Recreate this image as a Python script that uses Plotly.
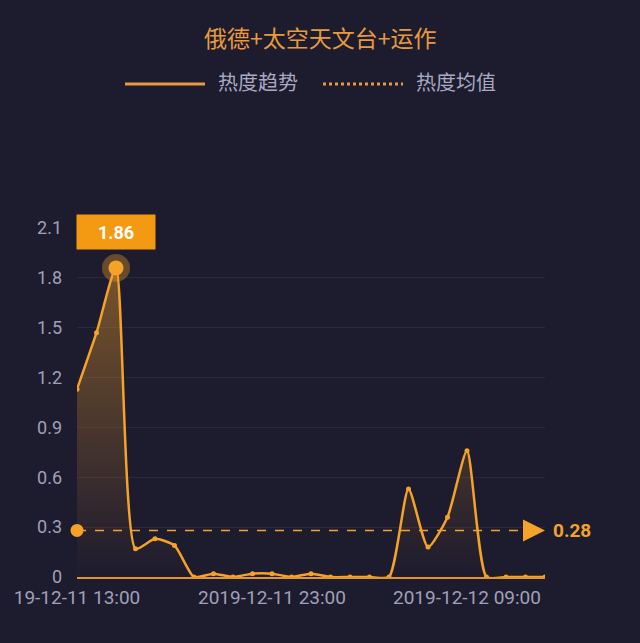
import plotly.graph_objects as go

# hourly points, 2019-12-11 13:00 .. 2019-12-12 13:00
hours = [
    "2019-12-11 13:00", "2019-12-11 14:00", "2019-12-11 15:00", "2019-12-11 16:00",
    "2019-12-11 17:00", "2019-12-11 18:00", "2019-12-11 19:00", "2019-12-11 20:00",
    "2019-12-11 21:00", "2019-12-11 22:00", "2019-12-11 23:00", "2019-12-12 00:00",
    "2019-12-12 01:00", "2019-12-12 02:00", "2019-12-12 03:00", "2019-12-12 04:00",
    "2019-12-12 05:00", "2019-12-12 06:00", "2019-12-12 07:00", "2019-12-12 08:00",
    "2019-12-12 09:00", "2019-12-12 10:00", "2019-12-12 11:00", "2019-12-12 12:00",
    "2019-12-12 13:00",
]
heat = [1.13, 1.47, 1.86, 0.17, 0.23, 0.19, 0.0, 0.02, 0.0, 0.02, 0.02, 0.0, 0.02,
        0.0, 0.0, 0.0, 0.0, 0.53, 0.18, 0.36, 0.76, 0.0, 0.0, 0.0, 0.0]
heat_mean = 0.28
tick_idx = [0, 10, 20]
tick_text = ["19-12-11 13:00", "2019-12-11 23:00", "2019-12-12 09:00"]
y_ticks = [0, 0.3, 0.6, 0.9, 1.2, 1.5, 1.8, 2.1]
y_ticktext = ["0", "0.3", "0.6", "0.9", "1.2", "1.5", "1.8", "2.1"]

title_text = "俄德+太空天文台+运作"
legend_names = ["热度趋势", "热度均值"]

BG = "#1d1b2e"
ORANGE = "#f5a229"
TICK = "#a0a0b8"
FONT = "Roboto, Noto Sans CJK SC, sans-serif"
CJK = "Noto Sans CJK SC"

# plot box in pixels (for paper coords of the hand-made legend)
L, R, T, B = 77, 545, 228, 577


def px(x):
    return (x - L) / (R - L)


def py(y):
    return (B - y) / (B - T)


fig = go.Figure()

# area + trend line
fig.add_trace(go.Scatter(
    x=hours, y=heat,
    mode="lines+markers",
    line=dict(color=ORANGE, width=2.5, shape="spline", smoothing=0.6),
    marker=dict(size=5, color=ORANGE),
    fill="tozeroy",
    fillgradient=dict(type="vertical",
                      colorscale=[[0, "rgba(245,162,41,0.0)"], [1, "rgba(245,162,41,0.42)"]]),
    name=legend_names[0], showlegend=False, hoverinfo="x+y",
))

# peak highlight
imax = heat.index(max(heat))
fig.add_trace(go.Scatter(
    x=[hours[imax]], y=[heat[imax]], mode="markers",
    marker=dict(size=28, color="rgba(245,162,41,0.35)"),
    showlegend=False, hoverinfo="skip",
))
fig.add_trace(go.Scatter(
    x=[hours[imax]], y=[heat[imax]], mode="markers",
    marker=dict(size=15, color=ORANGE),
    showlegend=False, hoverinfo="skip",
))

# mean line
fig.add_trace(go.Scatter(
    x=[hours[0], hours[-2]], y=[heat_mean, heat_mean], mode="lines",
    line=dict(color=ORANGE, width=1.5, dash="dash"),
    name=legend_names[1], showlegend=False, hoverinfo="skip",
))
fig.add_trace(go.Scatter(
    x=[hours[0]], y=[heat_mean], mode="markers",
    marker=dict(size=13, color=ORANGE),
    showlegend=False, hoverinfo="skip", cliponaxis=False,
))
fig.add_trace(go.Scatter(
    x=[hours[-1]], y=[heat_mean], mode="markers",
    marker=dict(size=22, color=ORANGE, symbol="arrow-right"),
    showlegend=False, hoverinfo="skip", cliponaxis=False,
))

annotations = [
    dict(x=hours[imax], y=heat[imax], xref="x", yref="y", text="<b>1.86</b>",
         showarrow=False, yshift=36, bgcolor="#f39a12", width=76, height=32,
         font=dict(size=18, color="white", family=FONT)),
    dict(x=hours[-1], y=heat_mean, xref="x", yref="y", text="<b>%.2f</b>" % heat_mean,
         showarrow=False, xanchor="left", xshift=6,
         font=dict(size=19, color=ORANGE, family=FONT)),
    dict(x=px(320), y=py(37), xref="paper", yref="paper", text=title_text,
         showarrow=False, yanchor="middle", font=dict(size=23, color="#e99a3c", family=CJK)),
    dict(x=px(216), y=py(82), xref="paper", yref="paper", text=legend_names[0],
         showarrow=False, xanchor="left", yanchor="middle",
         font=dict(size=20, color="#a9a9c2", family=CJK)),
    dict(x=px(414), y=py(82), xref="paper", yref="paper", text=legend_names[1],
         showarrow=False, xanchor="left", yanchor="middle",
         font=dict(size=20, color="#a9a9c2", family=CJK)),
]

shapes = [
    dict(type="line", xref="paper", yref="paper", x0=px(125), x1=px(205), y0=py(84), y1=py(84),
         line=dict(color="#e99a3c", width=3)),
    dict(type="line", xref="paper", yref="paper", x0=px(323), x1=px(403), y0=py(84), y1=py(84),
         line=dict(color="#e99a3c", width=3, dash="dot")),
]

fig.update_layout(
    width=640, height=643,
    margin=dict(l=L, r=640 - R, t=T, b=643 - B),
    paper_bgcolor=BG, plot_bgcolor=BG,
    font=dict(family=FONT, color=TICK),
    annotations=annotations, shapes=shapes,
    showlegend=False,
    xaxis=dict(
        type="category", range=[0, len(hours) - 1],
        tickmode="array", tickvals=[hours[i] for i in tick_idx], ticktext=tick_text,
        tickfont=dict(size=19, color=TICK), ticks="", ticklabelstandoff=2,
        showgrid=False, zeroline=False,
        showline=True, linecolor="#e0952e", linewidth=2,
    ),
    yaxis=dict(
        range=[0, 2.1], tickvals=y_ticks, ticktext=y_ticktext,
        tickfont=dict(size=18, color=TICK), ticks="", ticklabelstandoff=14,
        showgrid=True, gridcolor="rgba(255,255,255,0.06)", gridwidth=1,
        zeroline=False, showline=False,
    ),
)

fig.write_html("out.html", config={"displayModeBar": False},
               post_script="document.body.style.margin='0';")
